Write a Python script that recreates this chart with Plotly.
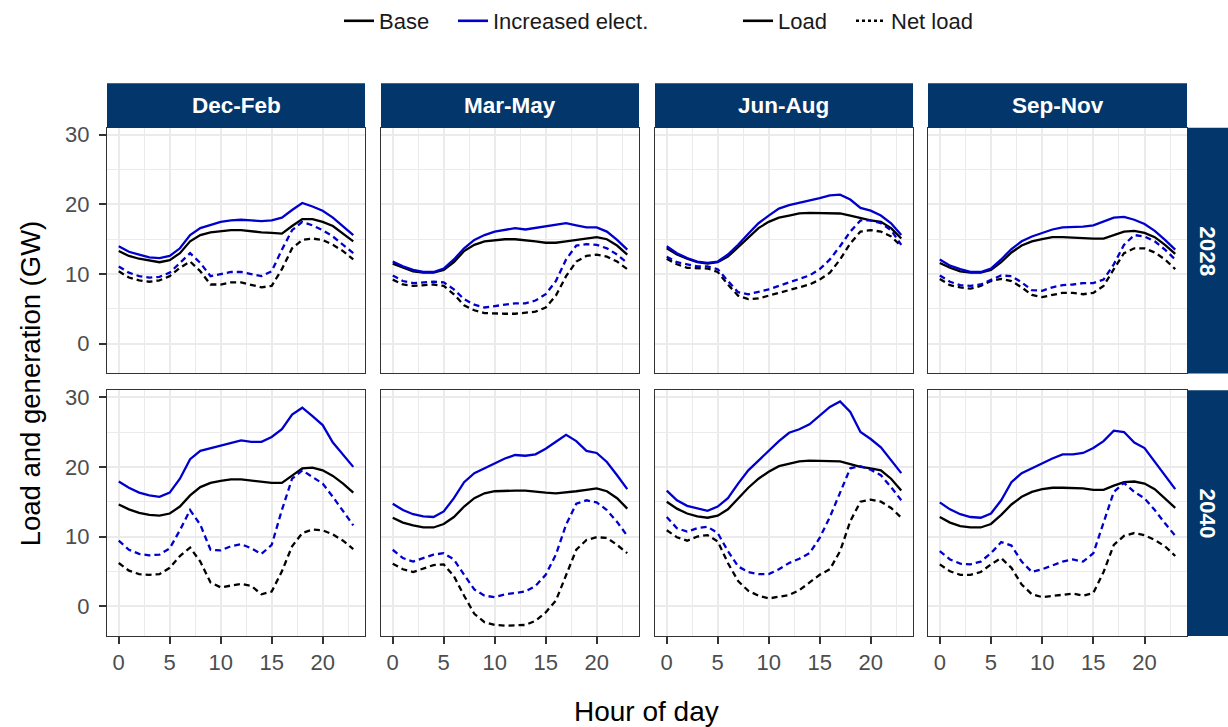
import plotly.graph_objects as go

# ---------------- data ----------------
HOURS = list(range(24))
SEASONS = ["Dec-Feb", "Mar-May", "Jun-Aug", "Sep-Nov"]
YEARS = ["2028", "2040"]
X_TICKS = [0, 5, 10, 15, 20]
Y_TICKS = [0, 10, 20, 30]

# 2028
DJF28_BASE_LOAD = [13.3, 12.6, 12.2, 11.9, 11.7, 12.0, 13.0, 14.7, 15.6, 16.0, 16.2, 16.3, 16.3, 16.1, 16.0, 15.9, 15.8, 16.9, 17.9, 17.9, 17.5, 16.9, 15.8, 14.7]
DJF28_BASE_NET = [10.4, 9.5, 9.1, 8.9, 9.1, 9.7, 10.9, 11.8, 10.4, 8.5, 8.5, 8.8, 8.8, 8.5, 8.1, 8.3, 10.7, 13.7, 14.9, 15.1, 14.9, 14.2, 13.3, 12.1]
DJF28_INC_LOAD = [14.0, 13.2, 12.8, 12.4, 12.3, 12.6, 13.7, 15.6, 16.6, 17.1, 17.5, 17.7, 17.8, 17.7, 17.6, 17.7, 18.1, 19.2, 20.2, 19.7, 19.1, 18.1, 16.9, 15.6]
DJF28_INC_NET = [11.1, 10.2, 9.7, 9.5, 9.6, 10.2, 11.6, 13.0, 11.6, 9.7, 10.0, 10.3, 10.3, 10.0, 9.7, 10.4, 13.5, 16.3, 17.5, 17.0, 16.3, 15.4, 14.2, 13.0]

MAM28_BASE_LOAD = [11.5, 10.9, 10.4, 10.2, 10.2, 10.6, 11.7, 13.3, 14.2, 14.7, 14.9, 15.0, 15.0, 14.9, 14.7, 14.5, 14.5, 14.7, 14.9, 15.1, 15.3, 15.0, 14.1, 12.8]
MAM28_BASE_NET = [9.2, 8.5, 8.3, 8.4, 8.5, 8.3, 7.1, 5.5, 4.8, 4.4, 4.3, 4.3, 4.3, 4.4, 4.6, 5.2, 6.9, 9.7, 11.8, 12.6, 12.8, 12.5, 11.8, 10.7]
MAM28_INC_LOAD = [11.8, 11.1, 10.6, 10.3, 10.3, 10.8, 12.1, 13.7, 14.9, 15.6, 16.1, 16.4, 16.6, 16.4, 16.6, 16.8, 17.0, 17.3, 17.0, 16.7, 16.7, 16.1, 14.9, 13.5]
MAM28_INC_NET = [9.8, 9.0, 8.7, 8.8, 8.9, 8.8, 7.8, 6.4, 5.6, 5.2, 5.4, 5.7, 5.8, 5.8, 6.2, 7.1, 9.0, 12.1, 14.1, 14.3, 14.2, 13.7, 12.8, 11.6]

JJA28_BASE_LOAD = [13.7, 12.8, 12.2, 11.7, 11.5, 11.7, 12.5, 13.9, 15.3, 16.6, 17.5, 18.1, 18.4, 18.7, 18.8, 18.8, 18.8, 18.7, 18.4, 18.0, 17.7, 17.5, 16.6, 15.1]
JJA28_BASE_NET = [12.2, 11.4, 10.9, 10.8, 10.8, 10.3, 8.5, 6.9, 6.4, 6.5, 6.9, 7.3, 7.6, 8.1, 8.5, 9.2, 10.2, 12.1, 14.4, 16.1, 16.3, 16.1, 15.4, 14.0]
JJA28_INC_LOAD = [14.0, 13.0, 12.3, 11.8, 11.6, 11.8, 12.8, 14.2, 15.8, 17.3, 18.4, 19.4, 19.9, 20.2, 20.6, 20.9, 21.3, 21.4, 20.7, 19.5, 19.1, 18.4, 17.3, 15.6]
JJA28_INC_NET = [12.5, 11.7, 11.4, 11.1, 11.1, 10.7, 9.0, 7.4, 7.1, 7.4, 7.8, 8.3, 8.8, 9.2, 9.8, 10.7, 12.1, 14.0, 16.1, 17.7, 17.7, 17.3, 16.3, 14.2]

SON28_BASE_LOAD = [11.6, 10.9, 10.4, 10.2, 10.2, 10.6, 11.7, 13.1, 14.1, 14.7, 15.0, 15.3, 15.3, 15.2, 15.2, 15.1, 15.1, 15.6, 16.1, 16.2, 15.9, 15.3, 14.2, 12.9]
SON28_BASE_NET = [9.3, 8.4, 8.1, 7.9, 8.3, 9.0, 9.3, 9.0, 8.1, 7.0, 6.7, 7.0, 7.3, 7.3, 7.1, 7.3, 8.3, 10.7, 13.0, 13.7, 13.7, 13.1, 12.1, 10.7]
SON28_INC_LOAD = [12.1, 11.2, 10.7, 10.3, 10.3, 10.8, 12.1, 13.6, 14.7, 15.4, 15.9, 16.4, 16.7, 16.7, 16.8, 17.0, 17.5, 18.1, 18.2, 17.8, 17.2, 16.2, 14.9, 13.5]
SON28_INC_NET = [9.8, 8.9, 8.4, 8.3, 8.5, 9.2, 9.8, 9.7, 8.8, 7.7, 7.6, 8.1, 8.4, 8.5, 8.7, 8.7, 9.2, 11.4, 14.2, 15.6, 15.4, 14.7, 13.5, 12.1]

# 2040
DJF40_BASE_LOAD = [14.6, 13.9, 13.4, 13.1, 13.0, 13.3, 14.3, 15.9, 17.1, 17.7, 18.0, 18.2, 18.2, 18.0, 17.8, 17.7, 17.7, 18.8, 19.8, 19.9, 19.5, 18.7, 17.6, 16.3]
DJF40_BASE_NET = [6.2, 5.1, 4.6, 4.5, 4.6, 5.5, 7.2, 8.4, 6.4, 3.4, 2.7, 3.0, 3.2, 2.9, 1.7, 2.1, 5.0, 8.6, 10.5, 11.0, 10.9, 10.3, 9.4, 8.2]
DJF40_INC_LOAD = [17.9, 17.0, 16.3, 15.9, 15.7, 16.3, 18.3, 21.1, 22.3, 22.7, 23.0, 23.5, 23.8, 23.6, 23.6, 24.3, 25.4, 27.5, 28.5, 27.3, 26.0, 23.5, 21.7, 20.0]
DJF40_INC_NET = [9.4, 8.1, 7.5, 7.3, 7.4, 8.3, 10.9, 13.8, 11.7, 8.1, 8.0, 8.6, 8.9, 8.3, 7.5, 8.8, 13.8, 18.3, 19.5, 18.5, 17.6, 15.7, 13.6, 11.6]

MAM40_BASE_LOAD = [12.7, 12.0, 11.6, 11.3, 11.3, 11.8, 12.8, 14.3, 15.5, 16.2, 16.5, 16.6, 16.6, 16.6, 16.4, 16.3, 16.2, 16.3, 16.5, 16.7, 16.9, 16.5, 15.5, 14.0]
MAM40_BASE_NET = [6.1, 5.3, 4.9, 5.4, 5.9, 6.0, 4.3, 1.5, -1.1, -2.3, -2.7, -2.8, -2.8, -2.7, -2.1, -0.9, 0.8, 4.5, 8.1, 9.5, 9.9, 9.8, 8.8, 7.6]
MAM40_INC_LOAD = [14.7, 13.8, 13.2, 12.9, 12.8, 13.6, 15.5, 17.8, 19.1, 19.8, 20.6, 21.2, 21.7, 21.6, 21.8, 22.6, 23.6, 24.6, 23.7, 22.3, 22.0, 20.7, 18.8, 16.8]
MAM40_INC_NET = [8.1, 6.9, 6.4, 6.9, 7.4, 7.6, 6.7, 4.5, 2.4, 1.5, 1.3, 1.7, 1.9, 2.1, 2.9, 4.5, 7.4, 11.7, 14.7, 15.2, 14.9, 13.8, 12.1, 10.1]

JJA40_BASE_LOAD = [15.0, 14.0, 13.3, 12.9, 12.7, 13.0, 13.9, 15.5, 17.0, 18.3, 19.3, 20.1, 20.5, 20.8, 20.9, 20.9, 20.9, 20.8, 20.4, 20.0, 19.8, 19.5, 18.3, 16.6]
JJA40_BASE_NET = [10.9, 9.9, 9.4, 10.0, 10.2, 9.3, 6.2, 3.6, 2.2, 1.5, 1.1, 1.3, 1.6, 2.3, 3.4, 4.5, 5.3, 7.9, 12.2, 15.0, 15.3, 15.0, 14.1, 12.7]
JJA40_INC_LOAD = [16.6, 15.2, 14.4, 14.0, 13.7, 14.3, 15.5, 17.6, 19.5, 20.9, 22.3, 23.7, 24.9, 25.4, 26.1, 27.3, 28.6, 29.4, 27.9, 25.0, 24.0, 22.8, 21.0, 19.1]
JJA40_INC_NET = [12.8, 11.2, 10.7, 11.2, 11.4, 10.5, 7.9, 5.7, 4.9, 4.6, 4.6, 5.3, 6.2, 6.8, 7.6, 9.8, 12.8, 16.4, 19.8, 20.1, 19.6, 18.8, 17.1, 15.2]

SON40_BASE_LOAD = [12.8, 12.0, 11.5, 11.3, 11.3, 11.8, 13.1, 14.6, 15.7, 16.4, 16.8, 17.0, 17.0, 17.0, 16.9, 16.7, 16.7, 17.3, 17.8, 17.9, 17.6, 16.8, 15.5, 14.1]
SON40_BASE_NET = [6.0, 5.0, 4.5, 4.5, 4.9, 6.0, 6.9, 5.5, 3.1, 1.7, 1.3, 1.5, 1.7, 1.8, 1.5, 1.9, 4.9, 8.8, 10.1, 10.5, 10.2, 9.5, 8.6, 7.2]
SON40_INC_LOAD = [14.9, 13.9, 13.2, 12.8, 12.7, 13.3, 15.2, 17.8, 19.1, 19.8, 20.6, 21.2, 21.8, 21.8, 22.0, 22.7, 23.7, 25.2, 25.0, 23.5, 22.7, 20.7, 18.8, 16.8]
SON40_INC_NET = [7.9, 6.7, 6.1, 6.0, 6.4, 7.6, 9.2, 8.7, 6.4, 4.9, 5.3, 5.9, 6.4, 6.7, 6.4, 7.6, 12.1, 16.4, 17.7, 16.4, 15.5, 13.8, 11.9, 10.1]

PANEL_DATA = [
    [(DJF28_BASE_LOAD, DJF28_BASE_NET, DJF28_INC_LOAD, DJF28_INC_NET),
     (MAM28_BASE_LOAD, MAM28_BASE_NET, MAM28_INC_LOAD, MAM28_INC_NET),
     (JJA28_BASE_LOAD, JJA28_BASE_NET, JJA28_INC_LOAD, JJA28_INC_NET),
     (SON28_BASE_LOAD, SON28_BASE_NET, SON28_INC_LOAD, SON28_INC_NET)],
    [(DJF40_BASE_LOAD, DJF40_BASE_NET, DJF40_INC_LOAD, DJF40_INC_NET),
     (MAM40_BASE_LOAD, MAM40_BASE_NET, MAM40_INC_LOAD, MAM40_INC_NET),
     (JJA40_BASE_LOAD, JJA40_BASE_NET, JJA40_INC_LOAD, JJA40_INC_NET),
     (SON40_BASE_LOAD, SON40_BASE_NET, SON40_INC_LOAD, SON40_INC_NET)],
]

# ---------------- style / layout ----------------
W, H = 1228, 727
FONT = "Liberation Sans, Arial, Helvetica, sans-serif"
BLACK = "#000000"
BLUE = "#0000CD"
STRIP = "#03366B"
BORDER = "#333333"
GRID = "#EBEBEB"
TICKTXT = "#4D4D4D"
DASH = "6px,4px"
LW = 2.3

COL_PX = [(107, 365), (381, 639), (655, 913), (928, 1187)]
ROW_PX = [(122, 370), (387, 635)]
STRIP_TOP = 77
STRIP_RIGHT = 1228
XRANGE = [-1.15, 24.15]
YRANGE = [-4.27, 31.0]


def px_x(p):
    return p / W


def px_y(p):
    return 1 - p / H


fig = go.Figure()
layout = dict(
    width=W, height=H, autosize=False,
    margin=dict(l=0, r=0, t=0, b=0, pad=0),
    paper_bgcolor="white", plot_bgcolor="white",
    font=dict(family=FONT, color=TICKTXT, size=20),
    showlegend=True,
)

for r in range(2):
    for c in range(4):
        k = r * 4 + c + 1
        xs = "" if k == 1 else str(k)
        bl, bn, il, inn = PANEL_DATA[r][c]
        series = [
            (bl, BLACK, "solid"),
            (bn, BLACK, DASH),
            (il, BLUE, "solid"),
            (inn, BLUE, DASH),
        ]
        for vals, col, dash in series:
            fig.add_trace(go.Scatter(
                x=HOURS, y=vals, mode="lines",
                line=dict(color=col, width=LW, dash=dash),
                xaxis="x" + xs, yaxis="y" + xs,
                showlegend=False, hoverinfo="skip",
            ))
        layout["xaxis" + xs] = dict(
            domain=[px_x(COL_PX[c][0]), px_x(COL_PX[c][1])],
            anchor="y" + xs, range=XRANGE,
            tickmode="array", tickvals=X_TICKS,
            ticktext=[str(v) for v in X_TICKS],
            showticklabels=(r == 1), ticks="outside" if r == 1 else "",
            ticklen=7, tickwidth=1.6, tickcolor=BORDER,
            tickfont=dict(size=22, color=TICKTXT, family=FONT),
            showgrid=True, gridcolor=GRID, gridwidth=1.6,
            minor=dict(tickvals=[2.5, 7.5, 12.5, 17.5, 22.5], showgrid=True,
                       gridcolor=GRID, gridwidth=0.9, ticks=""),
            showline=True, linecolor=BORDER, linewidth=1.2, mirror=True,
            zeroline=False, fixedrange=True,
        )
        layout["yaxis" + xs] = dict(
            domain=[px_y(ROW_PX[r][1]), px_y(ROW_PX[r][0])],
            anchor="x" + xs, range=YRANGE,
            tickmode="array", tickvals=Y_TICKS,
            ticktext=[str(v) for v in Y_TICKS],
            showticklabels=(c == 0), ticks="outside" if c == 0 else "",
            ticklen=7, tickwidth=1.6, tickcolor=BORDER, ticklabelstandoff=5,
            tickfont=dict(size=22, color=TICKTXT, family=FONT),
            showgrid=True, gridcolor=GRID, gridwidth=1.6,
            minor=dict(tickvals=[-5, 5, 15, 25], showgrid=True,
                       gridcolor=GRID, gridwidth=0.9, ticks=""),
            showline=True, linecolor=BORDER, linewidth=1.2, mirror=True,
            zeroline=False, fixedrange=True,
        )

# legend entries: one legend per entry, so the spacing can follow the reference
LEGEND_ITEMS = [
    ("Base", BLACK, "solid", "legend", 379),
    ("Increased elect.", BLUE, "solid", "legend2", 493),
    ("Load", BLACK, "solid", "legend3", 778),
    ("Net load", BLACK, "dot", "legend4", 891),
]
leg_common = dict(
    orientation="h", yanchor="middle", y=px_y(14),
    xanchor="left", bgcolor="rgba(0,0,0,0)", borderwidth=0,
    font=dict(size=22, color="#1a1a1a", family=FONT),
    itemwidth=30, traceorder="normal", itemclick=False, itemdoubleclick=False,
)
for name, col, dash, lg, text_x in LEGEND_ITEMS:
    fig.add_trace(go.Scatter(
        x=[None], y=[None], mode="lines", name=name,
        line=dict(color=col, width=2.6, dash=dash),
        legend=lg, showlegend=True, hoverinfo="skip",
    ))
    layout[lg] = dict(leg_common, x=px_x(text_x - 40))

shapes = []
annotations = []
for c, season in enumerate(SEASONS):
    x0, x1 = COL_PX[c]
    shapes.append(dict(type="rect", xref="paper", yref="paper",
                       x0=px_x(x0), x1=px_x(x1), y0=px_y(ROW_PX[0][0]), y1=px_y(STRIP_TOP),
                       fillcolor=STRIP, line=dict(width=0), layer="above"))
    annotations.append(dict(xref="paper", yref="paper",
                            x=px_x((x0 + x1) / 2), y=px_y((STRIP_TOP + ROW_PX[0][0]) / 2),
                            text="<b>" + season + "</b>", showarrow=False,
                            font=dict(size=22.5, color="white", family=FONT),
                            xanchor="center", yanchor="middle"))
for r, year in enumerate(YEARS):
    y0, y1 = ROW_PX[r]
    shapes.append(dict(type="rect", xref="paper", yref="paper",
                       x0=px_x(COL_PX[3][1]), x1=px_x(STRIP_RIGHT), y0=px_y(y1), y1=px_y(y0),
                       fillcolor=STRIP, line=dict(width=0), layer="above"))
    annotations.append(dict(xref="paper", yref="paper",
                            x=px_x((COL_PX[3][1] + STRIP_RIGHT) / 2), y=px_y((y0 + y1) / 2),
                            text="<b>" + year + "</b>", showarrow=False, textangle=90,
                            font=dict(size=22.5, color="white", family=FONT),
                            xanchor="center", yanchor="middle"))

annotations.append(dict(xref="paper", yref="paper", x=px_x(646), y=px_y(711),
                        text="Hour of day", showarrow=False,
                        font=dict(size=28, color="black", family=FONT),
                        xanchor="center", yanchor="middle"))
annotations.append(dict(xref="paper", yref="paper", x=px_x(30), y=px_y(380),
                        text="Load and generation (GW)", showarrow=False, textangle=-90,
                        font=dict(size=27.5, color="black", family=FONT),
                        xanchor="center", yanchor="middle"))

layout["shapes"] = shapes
layout["annotations"] = annotations
fig.update_layout(**layout)

fig.write_html("out.html")
